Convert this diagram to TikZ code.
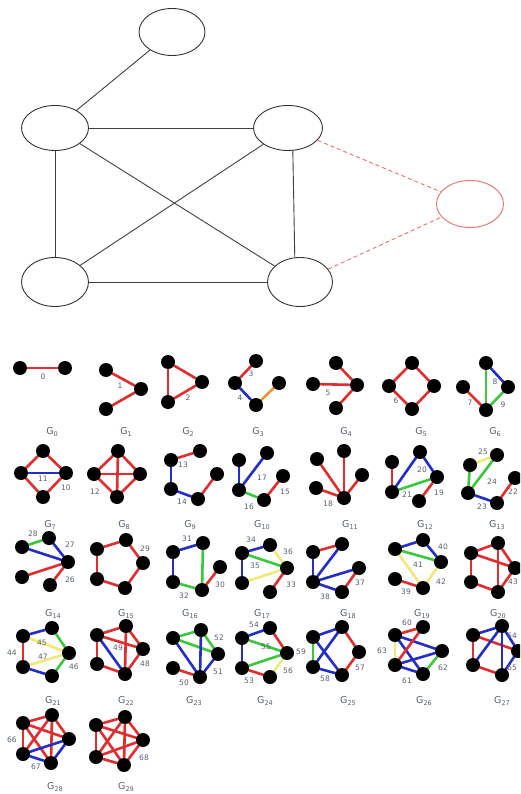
\documentclass[tikz,border=0pt]{standalone}
\usepackage{fontspec}
\setmainfont{DejaVu Sans}
\usetikzlibrary{shapes.geometric}
\pgfdeclarelayer{background}
\pgfsetlayers{background,main}
\definecolor{cR}{RGB}{225,45,45}
\definecolor{cB}{RGB}{35,45,200}
\definecolor{cG}{RGB}{60,200,60}
\definecolor{cY}{RGB}{240,232,120}
\definecolor{cO}{RGB}{235,150,50}
\definecolor{cL}{RGB}{85,95,110}
\definecolor{cD}{RGB}{232,110,110}
\newcommand\Vx[3]{\node[dot] (#1) at (#2,#3) {};}
\newcommand\Ed[3]{\draw[#1] (#2) -- (#3);}
\newcommand\Lb[4]{\node[elab] (#1) at (#2,#3) {#4};}
\newcommand\Gl[4]{\node[glab] (#1) at (#2,#3) {G\raisebox{-0.3em}{\fontsize{6.5}{6.5}\selectfont #4}};}
\tikzset{
  dot/.style={circle,fill=black,inner sep=0pt,minimum size=14pt},
  ell/.style={ellipse,draw=black!80,line width=0.9pt,inner sep=0pt},
  tedge/.style={draw=black!75,line width=0.9pt},
  redge/.style={draw=cD,line width=0.9pt,dash pattern=on 4pt off 3pt},
  ew/.style={line width=2.6pt,line cap=round},
  er/.style={ew,draw=cR}, eb/.style={ew,draw=cB}, eg/.style={ew,draw=cG},
  ey/.style={ew,draw=cY}, eo/.style={ew,draw=cO},
  elab/.style={font=\fontsize{7.5}{8}\selectfont,text=cL,inner sep=0pt},
  glab/.style={font=\fontsize{9.5}{10}\selectfont,text=cL,inner sep=0pt},
}
\begin{document}
\begin{tikzpicture}[x=1pt,y=-1pt]
\useasboundingbox (0,0) rectangle (520,794);
\clip (0,0) rectangle (520,794);
% ---------- top graph ----------
\node[ell,minimum width=66pt,minimum height=47pt] (tt) at (172,32) {};
\node[ell,minimum width=67pt,minimum height=45pt] (lm) at (55,128) {};
\node[ell,minimum width=69pt,minimum height=45pt] (rm) at (288,128) {};
\node[ell,minimum width=67pt,minimum height=49pt] (bl) at (55,282) {};
\node[ell,minimum width=65pt,minimum height=49pt] (br) at (300,282) {};
\node[ellipse,draw=cD,line width=0.9pt,inner sep=0pt,minimum width=67pt,minimum height=47pt] (rd) at (470,204) {};
\draw[tedge] (tt) -- (lm);
\draw[tedge] (lm) -- (rm);
\draw[tedge] (lm) -- (bl);
\draw[tedge] (lm) -- (br);
\draw[tedge] (rm) -- (bl);
\draw[tedge] (rm.-78) -- (br.102);
\draw[tedge] (bl) -- (br);
\draw[redge] (rm) -- (rd);
\draw[redge] (br) -- (rd);
% ---------- row 1 ----------
\Vx{g0a}{20}{368}\Vx{g0b}{65}{368}
\Vx{g1a}{106}{370}\Vx{g1b}{141}{389}\Vx{g1c}{106}{409}
\Vx{g2a}{168}{362}\Vx{g2b}{202}{382}\Vx{g2c}{168}{402}
\Vx{g3a}{235}{383}\Vx{g3b}{256}{361}\Vx{g3c}{256}{405}\Vx{g3d}{279}{383}
\Vx{g4a}{336}{363}\Vx{g4b}{313}{384}\Vx{g4c}{357}{385}\Vx{g4d}{336}{408}
\Vx{g5a}{412}{363}\Vx{g5b}{389}{386}\Vx{g5c}{434}{386}\Vx{g5d}{412}{409}
\Vx{g6a}{486}{363}\Vx{g6b}{463}{387}\Vx{g6c}{508}{387}\Vx{g6d}{486}{410}
% ---------- row 2 ----------
\Vx{g7a}{43}{451}\Vx{g7b}{21}{473}\Vx{g7c}{66}{473}\Vx{g7d}{43}{497}
\Vx{g8a}{118}{451}\Vx{g8b}{94}{474}\Vx{g8c}{140}{474}\Vx{g8d}{117}{497}
\Vx{g9a}{171}{460}\Vx{g9b}{200}{451}\Vx{g9c}{217}{474}\Vx{g9d}{171}{489}\Vx{g9e}{198}{499}
\Vx{g10a}{239}{460}\Vx{g10b}{267}{453}\Vx{g10c}{283}{476}\Vx{g10d}{239}{490}\Vx{g10e}{264}{500}
\Vx{g11a}{317}{459}\Vx{g11b}{344}{451}\Vx{g11c}{362}{475}\Vx{g11d}{316}{488}\Vx{g11e}{344}{498}
\Vx{g12a}{392}{462}\Vx{g12b}{420}{452}\Vx{g12c}{437}{477}\Vx{g12d}{392}{492}\Vx{g12e}{419}{501}
\Vx{g13a}{470}{465}\Vx{g13b}{497}{455}\Vx{g13c}{515}{478}\Vx{g13d}{468}{493}\Vx{g13e}{497}{503}
% ---------- row 3 ----------
\Vx{g14a}{22}{547}\Vx{g14b}{49}{538}\Vx{g14c}{68}{562}\Vx{g14d}{22}{577}\Vx{g14e}{50}{585}
\Vx{g15a}{97}{549}\Vx{g15b}{126}{540}\Vx{g15c}{143}{563}\Vx{g15d}{125}{588}\Vx{g15e}{97}{579}
\Vx{g16a}{173}{552}\Vx{g16b}{203}{543}\Vx{g16c}{220}{567}\Vx{g16d}{173}{582}\Vx{g16e}{202}{590}
\Vx{g17a}{242}{553}\Vx{g17b}{270}{545}\Vx{g17c}{287}{568}\Vx{g17d}{242}{583}\Vx{g17e}{270}{592}
\Vx{g18a}{313}{552}\Vx{g18b}{342}{544}\Vx{g18c}{359}{568}\Vx{g18d}{313}{582}\Vx{g18e}{342}{592}
\Vx{g19a}{395}{549}\Vx{g19b}{423}{540}\Vx{g19c}{441}{562}\Vx{g19d}{395}{579}\Vx{g19e}{423}{588}
\Vx{g20a}{471}{553}\Vx{g20b}{498}{543}\Vx{g20c}{515}{568}\Vx{g20d}{471}{582}\Vx{g20e}{498}{592}
% ---------- row 4 ----------
\Vx{g21a}{23}{636}\Vx{g21b}{52}{628}\Vx{g21c}{69}{653}\Vx{g21d}{23}{667}\Vx{g21e}{52}{676}
\Vx{g22a}{97}{635}\Vx{g22b}{126}{626}\Vx{g22c}{143}{649}\Vx{g22d}{97}{664}\Vx{g22e}{125}{674}
\Vx{g23a}{173}{638}\Vx{g23b}{201}{630}\Vx{g23c}{218}{654}\Vx{g23d}{173}{668}\Vx{g23e}{200}{677}
\Vx{g24a}{242}{638}\Vx{g24b}{270}{628}\Vx{g24c}{287}{653}\Vx{g24d}{242}{668}\Vx{g24e}{270}{677}
\Vx{g25a}{313}{637}\Vx{g25b}{342}{627}\Vx{g25c}{359}{652}\Vx{g25d}{313}{667}\Vx{g25e}{342}{675}
\Vx{g26a}{395}{635}\Vx{g26b}{423}{627}\Vx{g26c}{442}{651}\Vx{g26d}{395}{665}\Vx{g26e}{423}{674}
\Vx{g27a}{473}{635}\Vx{g27b}{502}{626}\Vx{g27c}{518}{651}\Vx{g27d}{473}{665}\Vx{g27e}{502}{675}
% ---------- row 5 ----------
\Vx{g28a}{23}{723}\Vx{g28b}{52}{715}\Vx{g28c}{69}{739}\Vx{g28d}{23}{754}\Vx{g28e}{51}{763}
\Vx{g29a}{96}{725}\Vx{g29b}{125}{717}\Vx{g29c}{143}{740}\Vx{g29d}{96}{757}\Vx{g29e}{124}{765}
\begin{pgfonlayer}{background}
\Ed{er}{g0a}{g0b}
\Ed{er}{g1a}{g1b}\Ed{er}{g1c}{g1b}
\Ed{er}{g2a}{g2b}\Ed{er}{g2b}{g2c}\Ed{er}{g2c}{g2a}
\Ed{er}{g3a}{g3b}\Ed{eb}{g3a}{g3c}\Ed{eo}{g3c}{g3d}
\Ed{er}{g4c}{g4a}\Ed{er}{g4c}{g4b}\Ed{er}{g4c}{g4d}
\Ed{er}{g5a}{g5b}\Ed{er}{g5a}{g5c}\Ed{er}{g5b}{g5d}\Ed{er}{g5c}{g5d}
\Ed{eb}{g6a}{g6c}\Ed{eg}{g6a}{g6d}\Ed{eg}{g6c}{g6d}\Ed{er}{g6b}{g6d}
%
\Ed{er}{g7a}{g7b}\Ed{er}{g7a}{g7c}\Ed{er}{g7b}{g7d}\Ed{er}{g7c}{g7d}\Ed{eb}{g7b}{g7c}
\Ed{er}{g8a}{g8b}\Ed{er}{g8a}{g8c}\Ed{er}{g8b}{g8d}\Ed{er}{g8c}{g8d}\Ed{er}{g8a}{g8d}\Ed{er}{g8b}{g8c}
\Ed{er}{g9a}{g9b}\Ed{eb}{g9a}{g9d}\Ed{eb}{g9d}{g9e}\Ed{er}{g9e}{g9c}
\Ed{eb}{g10a}{g10d}\Ed{eb}{g10d}{g10b}\Ed{eg}{g10d}{g10e}\Ed{er}{g10e}{g10c}
\Ed{er}{g11e}{g11a}\Ed{er}{g11e}{g11b}\Ed{er}{g11e}{g11c}\Ed{er}{g11e}{g11d}
\Ed{er}{g12a}{g12d}\Ed{eb}{g12d}{g12b}\Ed{eb}{g12b}{g12c}\Ed{eg}{g12d}{g12c}\Ed{er}{g12c}{g12e}
\Ed{eg}{g13a}{g13d}\Ed{ey}{g13a}{g13b}\Ed{eg}{g13b}{g13d}\Ed{eb}{g13d}{g13e}\Ed{er}{g13e}{g13c}
%
\Ed{eg}{g14a}{g14b}\Ed{eb}{g14b}{g14c}\Ed{eb}{g14a}{g14c}\Ed{er}{g14d}{g14c}\Ed{er}{g14e}{g14c}
\Ed{er}{g15a}{g15b}\Ed{er}{g15b}{g15c}\Ed{er}{g15c}{g15d}\Ed{er}{g15d}{g15e}\Ed{er}{g15e}{g15a}
\Ed{eb}{g16a}{g16b}\Ed{eb}{g16a}{g16d}\Ed{eg}{g16b}{g16e}\Ed{eg}{g16d}{g16e}\Ed{er}{g16e}{g16c}
\Ed{eb}{g17a}{g17b}\Ed{eb}{g17a}{g17d}\Ed{eg}{g17a}{g17c}\Ed{ey}{g17d}{g17c}\Ed{ey}{g17b}{g17c}\Ed{er}{g17e}{g17c}
\Ed{er}{g18a}{g18b}\Ed{eb}{g18b}{g18d}\Ed{eb}{g18a}{g18d}\Ed{eb}{g18d}{g18c}\Ed{eb}{g18d}{g18e}\Ed{er}{g18e}{g18c}
\Ed{eb}{g19a}{g19b}\Ed{eb}{g19b}{g19c}\Ed{eg}{g19a}{g19c}\Ed{ey}{g19a}{g19e}\Ed{ey}{g19c}{g19e}\Ed{er}{g19d}{g19e}
\Ed{er}{g20a}{g20b}\Ed{er}{g20b}{g20c}\Ed{er}{g20c}{g20e}\Ed{er}{g20e}{g20d}\Ed{er}{g20d}{g20a}\Ed{er}{g20a}{g20c}\Ed{er}{g20b}{g20e}
%
\Ed{eb}{g21a}{g21b}\Ed{eg}{g21b}{g21c}\Ed{er}{g21a}{g21d}\Ed{eb}{g21d}{g21e}\Ed{eg}{g21e}{g21c}\Ed{ey}{g21a}{g21c}\Ed{ey}{g21d}{g21c}
\Ed{er}{g22a}{g22b}\Ed{er}{g22b}{g22c}\Ed{er}{g22c}{g22e}\Ed{er}{g22e}{g22d}\Ed{er}{g22d}{g22a}\Ed{er}{g22a}{g22c}\Ed{er}{g22b}{g22e}\Ed{eb}{g22a}{g22e}
\Ed{eg}{g23a}{g23b}\Ed{eg}{g23a}{g23c}\Ed{eg}{g23b}{g23c}\Ed{eb}{g23a}{g23e}\Ed{eb}{g23b}{g23e}\Ed{eb}{g23c}{g23e}\Ed{er}{g23d}{g23e}
\Ed{eb}{g24a}{g24b}\Ed{eb}{g24a}{g24d}\Ed{eg}{g24a}{g24c}\Ed{eg}{g24d}{g24c}\Ed{er}{g24b}{g24c}\Ed{er}{g24d}{g24e}\Ed{ey}{g24e}{g24c}
\Ed{eb}{g25a}{g25b}\Ed{er}{g25b}{g25c}\Ed{er}{g25c}{g25e}\Ed{eg}{g25a}{g25d}\Ed{eb}{g25a}{g25e}\Ed{eb}{g25b}{g25d}\Ed{eb}{g25d}{g25e}
\Ed{er}{g26a}{g26b}\Ed{ey}{g26a}{g26d}\Ed{eb}{g26a}{g26c}\Ed{eb}{g26a}{g26e}\Ed{er}{g26b}{g26d}\Ed{eb}{g26d}{g26c}\Ed{eb}{g26d}{g26e}\Ed{eg}{g26c}{g26e}
\Ed{eb}{g27a}{g27b}\Ed{er}{g27a}{g27d}\Ed{er}{g27d}{g27e}\Ed{er}{g27a}{g27c}\Ed{eb}{g27b}{g27d}\Ed{eb}{g27b}{g27e}\Ed{eb}{g27b}{g27c}\Ed{eb}{g27c}{g27e}
%
\Ed{er}{g28a}{g28b}\Ed{er}{g28b}{g28c}\Ed{er}{g28a}{g28d}\Ed{er}{g28a}{g28c}\Ed{er}{g28a}{g28e}\Ed{er}{g28b}{g28d}\Ed{er}{g28b}{g28e}
\Ed{eb}{g28d}{g28c}\Ed{eb}{g28d}{g28e}\Ed{eb}{g28e}{g28c}
\foreach \p/\q in {a/b,a/c,a/d,a/e,b/c,b/d,b/e,c/d,c/e,d/e}{\Ed{er}{g29\p}{g29\q}}
\end{pgfonlayer}
% ---------- edge labels ----------
\Lb{l0}{43}{377}{0}\Lb{l1}{120}{386}{1}\Lb{l2}{188}{398}{2}\Lb{l3}{251}{374}{3}\Lb{l4}{240}{398}{4}
\Lb{l5}{328}{393}{5}\Lb{l6}{396}{401}{6}\Lb{l7}{470}{403}{7}\Lb{l8}{495}{382}{8}\Lb{l9}{503}{405}{9}
\Lb{l10}{66}{488}{10}\Lb{l11}{43}{479}{11}\Lb{l12}{95}{492}{12}\Lb{l13}{183}{465}{13}\Lb{l14}{182}{502}{14}
\Lb{l15}{285}{492}{15}\Lb{l16}{249}{507}{16}\Lb{l17}{262}{478}{17}\Lb{l18}{328}{504}{18}\Lb{l19}{439}{493}{19}
\Lb{l20}{422}{470}{20}\Lb{l21}{407}{495}{21}\Lb{l22}{513}{492}{22}\Lb{l23}{482}{507}{23}\Lb{l24}{492}{482}{24}
\Lb{l25}{483}{452}{25}\Lb{l26}{70}{580}{26}\Lb{l27}{70}{545}{27}\Lb{l28}{33}{534}{28}\Lb{l29}{145}{549}{29}
\Lb{l30}{220}{585}{30}\Lb{l31}{187}{539}{31}\Lb{l32}{184}{596}{32}\Lb{l33}{291}{585}{33}\Lb{l34}{251}{540}{34}
\Lb{l35}{255}{566}{35}\Lb{l36}{288}{552}{36}\Lb{l37}{360}{583}{37}\Lb{l38}{325}{597}{38}\Lb{l39}{406}{592}{39}
\Lb{l40}{443}{547}{40}\Lb{l41}{418}{565}{41}\Lb{l42}{441}{582}{42}\Lb{l43}{513}{582}{43}\Lb{l44}{12}{653}{44}
\Lb{l45}{42}{643}{45}\Lb{l46}{74}{667}{46}\Lb{l47}{43}{657}{47}\Lb{l48}{145}{664}{48}\Lb{l49}{118}{648}{49}
\Lb{l50}{184}{683}{50}\Lb{l51}{218}{672}{51}\Lb{l52}{219}{638}{52}\Lb{l53}{249}{681}{53}\Lb{l54}{254}{625}{54}
\Lb{l55}{266}{647}{55}\Lb{l56}{288}{671}{56}\Lb{l57}{360}{668}{57}\Lb{l58}{325}{679}{58}\Lb{l59}{301}{652}{59}
\Lb{l60}{407}{623}{60}\Lb{l61}{407}{681}{61}\Lb{l62}{443}{668}{62}\Lb{l63}{382}{651}{63}\Lb{l64}{512}{636}{64}
\Lb{l65}{512}{668}{65}\Lb{l66}{12}{740}{66}\Lb{l67}{36}{767}{67}\Lb{l68}{144}{758}{68}
% ---------- graph labels ----------
\Gl{n0}{52}{432}{0}\Gl{n1}{126}{432}{1}\Gl{n2}{188}{432}{2}\Gl{n3}{258}{432}{3}\Gl{n4}{346}{432}{4}\Gl{n5}{421}{432}{5}\Gl{n6}{495}{432}{6}
\Gl{n7}{50}{525}{7}\Gl{n8}{124}{525}{8}\Gl{n9}{190}{525}{9}\Gl{n10}{262}{525}{10}\Gl{n11}{350}{525}{11}\Gl{n12}{425}{525}{12}\Gl{n13}{497}{525}{13}
\Gl{n14}{53}{614}{14}\Gl{n15}{126}{614}{15}\Gl{n16}{190}{614}{16}\Gl{n17}{262}{614}{17}\Gl{n18}{348}{614}{18}\Gl{n19}{422}{614}{19}\Gl{n20}{498}{614}{20}
\Gl{n21}{53}{701}{21}\Gl{n22}{126}{701}{22}\Gl{n23}{194}{701}{23}\Gl{n24}{265}{701}{24}\Gl{n25}{348}{701}{25}\Gl{n26}{424}{701}{26}\Gl{n27}{502}{701}{27}
\Gl{n28}{55}{787}{28}\Gl{n29}{126}{787}{29}
\end{tikzpicture}
\end{document}
